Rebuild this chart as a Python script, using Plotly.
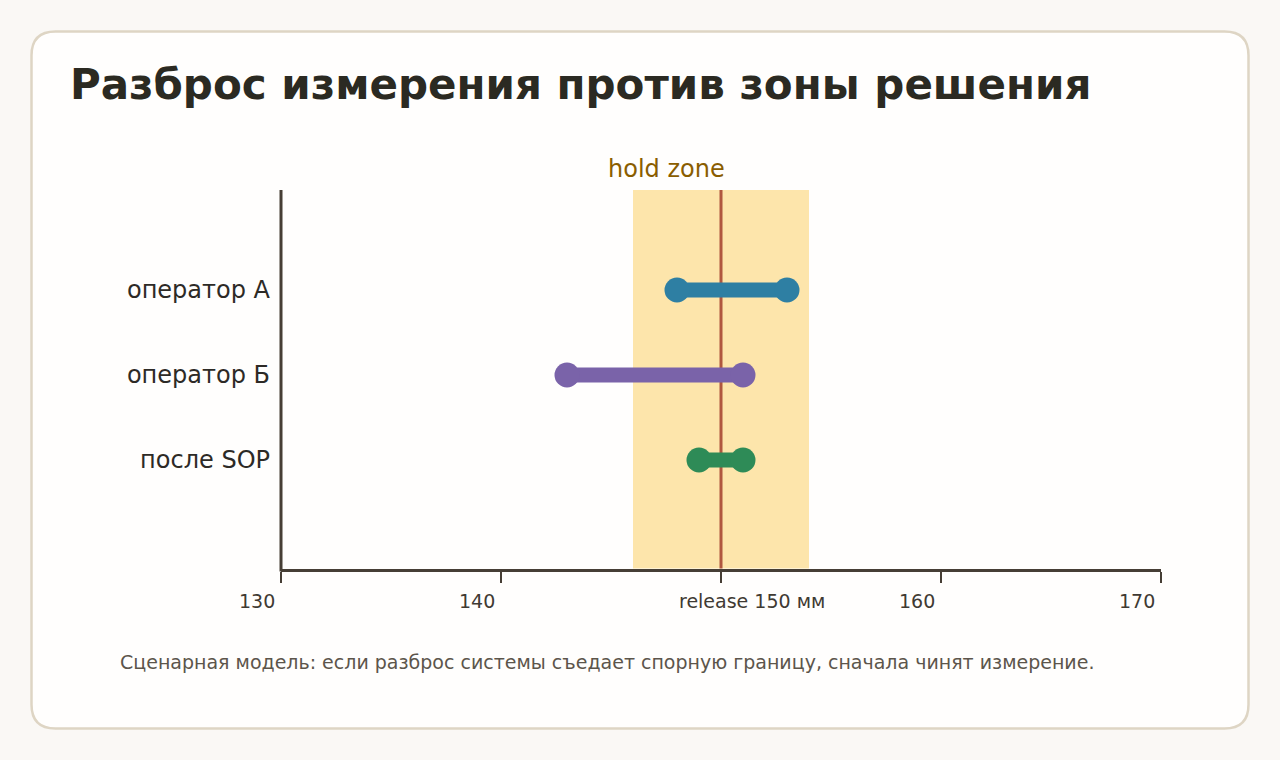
import plotly.graph_objects as go

W, H = 1280, 760

categories = ["оператор А", "оператор Б", "после SOP"]
low_values = [148, 143, 149]
high_values = [153, 151, 151]
series_colors = ["#2e7fa3", "#7a63a9", "#2e8b57"]

tick_values = [130, 140, 150, 160, 170]
tick_labels = ["130", "140", "release 150 мм", "160", "170"]

hold_zone = [146, 154]
release_value = 150

title_text = "Разброс измерения против зоны решения"
footnote_text = "Сценарная модель: если разброс системы съедает спорную границу, сначала чинят измерение."

FONT = "DejaVu Sans"

# label offsets in pixels (style only) as seen in the reference
tick_label_shift = [-24, -24, 31, -24, -24]

# category positions (top to bottom)
ypos = [2, 1, 0]

fig = go.Figure()

for cat, lo, hi, col, y in zip(categories, low_values, high_values, series_colors, ypos):
    fig.add_trace(go.Scatter(
        x=[lo, hi], y=[y, y], mode="lines+markers",
        line=dict(color=col, width=15),
        marker=dict(color=col, size=25),
        name=cat, showlegend=False, hoverinfo="x+name",
    ))

def px(x):
    return x / W

def py(y):
    return 1 - y / H

# card with rounded corners (paper coordinates == pixels since margins are 0)
x0, y0, x1, y1, r = 31.5, 31.5, 1248.5, 728.5, 24
path = (
    f"M {px(x0 + r)},{py(y0)} L {px(x1 - r)},{py(y0)} "
    f"Q {px(x1)},{py(y0)} {px(x1)},{py(y0 + r)} "
    f"L {px(x1)},{py(y1 - r)} Q {px(x1)},{py(y1)} {px(x1 - r)},{py(y1)} "
    f"L {px(x0 + r)},{py(y1)} Q {px(x0)},{py(y1)} {px(x0)},{py(y1 - r)} "
    f"L {px(x0)},{py(y0 + r)} Q {px(x0)},{py(y0)} {px(x0 + r)},{py(y0)} Z"
)

PLOT_LEFT, PLOT_RIGHT = 281, 1161
PLOT_TOP, PLOT_BOTTOM = 190, 568.5

shapes = [
    dict(type="path", path=path, xref="paper", yref="paper",
         fillcolor="#fffefd", line=dict(color="#ded5c4", width=2.5), layer="below"),
    dict(type="rect", xref="x", yref="paper", x0=hold_zone[0], x1=hold_zone[1],
         y0=py(PLOT_BOTTOM), y1=py(PLOT_TOP), fillcolor="#fde5ab", line=dict(width=0), layer="below"),
    dict(type="line", xref="x", yref="paper", x0=release_value, x1=release_value,
         y0=py(PLOT_BOTTOM), y1=py(PLOT_TOP), line=dict(color="#b0573f", width=3), layer="below"),
    # y axis line at the left edge of the plotting area
    dict(type="line", xref="paper", yref="paper", x0=px(PLOT_LEFT), x1=px(PLOT_LEFT),
         y0=py(571.5), y1=py(PLOT_TOP), line=dict(color="#463e35", width=3), layer="above"),
]

annotations = [
    dict(text=title_text, xref="paper", yref="paper", x=px(68), y=py(84),
         xanchor="left", yanchor="middle", showarrow=False,
         font=dict(family=FONT, size=42, color="#2b2a22", weight="bold")),
    dict(text="hold zone", xref="x", yref="paper", x=(hold_zone[0] + release_value) / 2 - 0.5,
         y=py(169), xanchor="center", yanchor="middle", showarrow=False,
         font=dict(family=FONT, size=24, color="#8a5d00")),
    dict(text=footnote_text, xref="paper", yref="paper", x=px(118), y=py(662),
         xanchor="left", yanchor="middle", showarrow=False,
         font=dict(family=FONT, size=19, color="#5c554b")),
]

for tv, tl, sh in zip(tick_values, tick_labels, tick_label_shift):
    annotations.append(dict(
        text=tl, xref="x", yref="paper", x=tv, y=py(601), xshift=sh,
        xanchor="center", yanchor="middle", showarrow=False,
        font=dict(family=FONT, size=19, color="#3f3a33"),
    ))

fig.update_layout(
    width=W, height=H, autosize=False,
    margin=dict(l=0, r=0, t=0, b=0, pad=0, autoexpand=False),
    paper_bgcolor="#faf8f5", plot_bgcolor="rgba(0,0,0,0)",
    shapes=shapes, annotations=annotations,
    font=dict(family=FONT),
    showlegend=False,
    xaxis=dict(
        domain=[px(PLOT_LEFT), px(PLOT_RIGHT)], range=[tick_values[0], tick_values[-1]],
        tickvals=tick_values, showticklabels=False,
        showgrid=False, zeroline=False, automargin=False,
        showline=True, linecolor="#463e35", linewidth=3,
        ticks="outside", ticklen=11, tickwidth=2, tickcolor="#463e35",
        fixedrange=True,
    ),
    yaxis=dict(
        domain=[py(PLOT_BOTTOM), py(PLOT_TOP)], range=[-1.276, 3.176],
        tickvals=ypos, ticktext=categories,
        showgrid=False, zeroline=False, automargin=False,
        showline=False,
        ticks="", ticklabelstandoff=10,
        tickfont=dict(family=FONT, size=24, color="#2d2a26"),
        fixedrange=True,
    ),
)

fig.write_html("out.html")
